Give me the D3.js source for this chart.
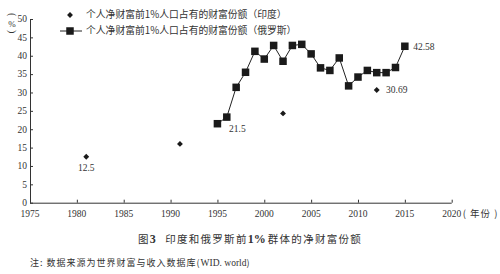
<!DOCTYPE html>
<html>
<head>
<meta charset="utf-8">
<script src="https://cdn.jsdelivr.net/npm/d3@7"></script>
<style>
  body { margin: 0; background: #fff; }
  svg text { fill: #333; }
</style>
</head>
<body>
<div id="chart"></div>
<script>
(function () {
    // data
    var indiaYears = [1981, 1991, 2002, 2012];
    var indiaValues = [12.5, 16.0, 24.3, 30.69];
    var russiaYears = [1995, 1996, 1997, 1998, 1999, 2000, 2001, 2002, 2003, 2004, 2005,
                       2006, 2007, 2008, 2009, 2010, 2011, 2012, 2013, 2014, 2015];
    var russiaValues = [21.5, 23.3, 31.4, 35.5, 41.2, 39.1, 42.8, 38.5, 42.8, 43.1, 40.5,
                        36.7, 36.0, 39.4, 31.8, 34.2, 36.0, 35.4, 35.4, 36.8, 42.58];
    var xTicks = [1975, 1980, 1985, 1990, 1995, 2000, 2005, 2010, 2015, 2020];
    var yTicks = [0, 5, 10, 15, 20, 25, 30, 35, 40, 45, 50];
    var seriesNames = ['个人净财富前1%人口占有的财富份额（印度）', '个人净财富前1%人口占有的财富份额（俄罗斯）'];
    // [year, value, label, dx, dy]
    var pointLabels = [
        [1981, 12.5, '12.5', 0, 11],
        [1995, 21.5, '21.5', 20, 5],
        [2012, 30.69, '30.69', 20, 0],
        [2015, 42.58, '42.58', 19, 0]
    ];

    var w = 500, h = 274;
    var serif = '"Liberation Serif", "DejaVu Serif", serif';
    var cjk = '"Noto Sans CJK SC", sans-serif';
    var numSize = '9.5px';

    var x = d3.scaleLinear().domain([1975, 2020]).range([30, 451.7]);
    var y = d3.scaleLinear().domain([0, 50]).range([202.7, 19]);

    var svg = d3.select('#chart')
        .append('svg')
            .attr('width', w)
            .attr('height', h);

    // y axis, ticks inside
    var yAxis = svg.append('g')
        .attr('transform', 'translate(' + x(1975) + ',0)')
        .call(d3.axisRight(y).tickValues(yTicks).tickSize(3).tickFormat(''));
    svg.append('g').selectAll('text')
        .data(yTicks)
        .enter()
        .append('text')
            .attr('x', x(1975) - 3)
            .attr('y', function (d) { return y(d); })
            .attr('dy', '0.35em')
            .attr('text-anchor', 'end')
            .style('font-family', serif)
            .style('font-size', numSize)
            .text(function (d) { return d; });

    // x axis, ticks upward
    var xAxis = svg.append('g')
        .attr('transform', 'translate(0,' + y(0) + ')')
        .call(d3.axisTop(x).tickValues(xTicks).tickSize(3).tickFormat(''));
    svg.append('g').selectAll('text')
        .data(xTicks)
        .enter()
        .append('text')
            .attr('x', function (d) { return x(d); })
            .attr('y', y(0) + 14)
            .attr('text-anchor', 'middle')
            .style('font-family', serif)
            .style('font-size', numSize)
            .text(function (d) { return d; });

    svg.selectAll('.domain, .tick line')
        .attr('stroke', '#333')
        .attr('stroke-width', 1);
    yAxis.select('.domain').attr('d', 'M0.5,' + y(0) + 'V' + y(50));
    xAxis.select('.domain').attr('d', 'M' + x(1975) + ',0.5H' + x(2020));

    svg.append('text')
        .attr('x', x(2020) + 11)
        .attr('y', y(0) + 14)
        .style('font-family', cjk)
        .style('font-size', '9.5px')
        .style('letter-spacing', '1px')
        .text('( 年份 )');

    // vertical unit label
    var unit = svg.append('g').attr('transform', 'translate(12,17)');
    unit.append('text').attr('transform', 'rotate(90)').attr('x', -4).attr('y', 3)
        .style('font-family', serif).style('font-size', '10px').text('(');
    unit.append('text').attr('x', 0).attr('y', 10).attr('text-anchor', 'middle')
        .style('font-family', serif).style('font-size', '9px').text('%');
    unit.append('text').attr('transform', 'rotate(90)').attr('x', 13).attr('y', 3)
        .style('font-family', serif).style('font-size', '10px').text(')');

    // russia line + squares
    var russia = russiaYears.map(function (d, i) { return [d, russiaValues[i]]; });
    var line = d3.line()
        .x(function (d) { return x(d[0]); })
        .y(function (d) { return y(d[1]); });
    svg.append('path')
        .datum(russia)
        .attr('d', line)
        .attr('fill', 'none')
        .attr('stroke', '#222')
        .attr('stroke-width', 1);
    var sq = 7.5;
    svg.selectAll('rect.ru')
        .data(russia)
        .enter()
        .append('rect')
            .attr('class', 'ru')
            .attr('x', function (d) { return x(d[0]) - sq / 2; })
            .attr('y', function (d) { return y(d[1]) - sq / 2; })
            .attr('width', sq)
            .attr('height', sq)
            .style('fill', '#1a1a1a');

    // india diamonds
    var diamond = d3.symbol().type(d3.symbolDiamond2).size(22);
    svg.selectAll('path.in')
        .data(indiaYears)
        .enter()
        .append('path')
            .attr('class', 'in')
            .attr('d', diamond)
            .attr('transform', function (d, i) {
                return 'translate(' + x(d) + ',' + y(indiaValues[i]) + ')';
            })
            .style('fill', '#1a1a1a');

    // value labels
    svg.selectAll('text.lbl')
        .data(pointLabels)
        .enter()
        .append('text')
            .attr('class', 'lbl')
            .attr('x', function (d) { return x(d[0]) + d[3]; })
            .attr('y', function (d) { return y(d[1]) + d[4]; })
            .attr('dy', '0.35em')
            .attr('text-anchor', 'middle')
            .style('font-family', serif)
            .style('font-size', numSize)
            .text(function (d) { return d[2]; });

    // legend
    var legend = svg.append('g');
    legend.append('path')
        .attr('d', diamond)
        .attr('transform', 'translate(70,15)')
        .style('fill', '#1a1a1a');
    legend.append('line')
        .attr('x1', 60).attr('x2', 82).attr('y1', 31).attr('y2', 31)
        .attr('stroke', '#222');
    legend.append('rect')
        .attr('x', 70 - sq / 2).attr('y', 31 - sq / 2)
        .attr('width', sq).attr('height', sq)
        .style('fill', '#1a1a1a');
    legend.selectAll('text')
        .data(seriesNames)
        .enter()
        .append('text')
            .attr('x', 86)
            .attr('y', function (d, i) { return 15 + i * 16; })
            .attr('dy', '0.35em')
            .style('font-family', cjk)
            .style('font-size', '9.8px')
            .text(function (d) { return d; });

    // caption and note
    var cap = svg.append('text')
        .attr('x', 138)
        .attr('y', 243)
        .style('font-family', cjk)
        .style('font-size', '10.5px')
        .style('letter-spacing', '1.3px');
    cap.append('tspan').text('图');
    cap.append('tspan').style('font-family', serif).style('font-weight', 'bold').style('font-size', '12px').text('3');
    cap.append('tspan').attr('dx', 8).text('印度和俄罗斯前');
    cap.append('tspan').style('font-family', serif).style('font-weight', 'bold').style('font-size', '12px').style('letter-spacing', '0px').text('1%');
    cap.append('tspan').attr('dx', 2).text('群体的净财富份额');

    var note = svg.append('text')
        .attr('x', 30)
        .attr('y', 266)
        .style('font-family', cjk)
        .style('font-size', '9px')
        .style('letter-spacing', '1px');
    note.append('tspan').text('注: 数据来源为世界财富与收入数据库(');
    note.append('tspan').style('font-family', serif).style('letter-spacing', '0px').style('font-size', '9.5px').text('WID. world');
    note.append('tspan').text(')');
})();
</script>
</body>
</html>
